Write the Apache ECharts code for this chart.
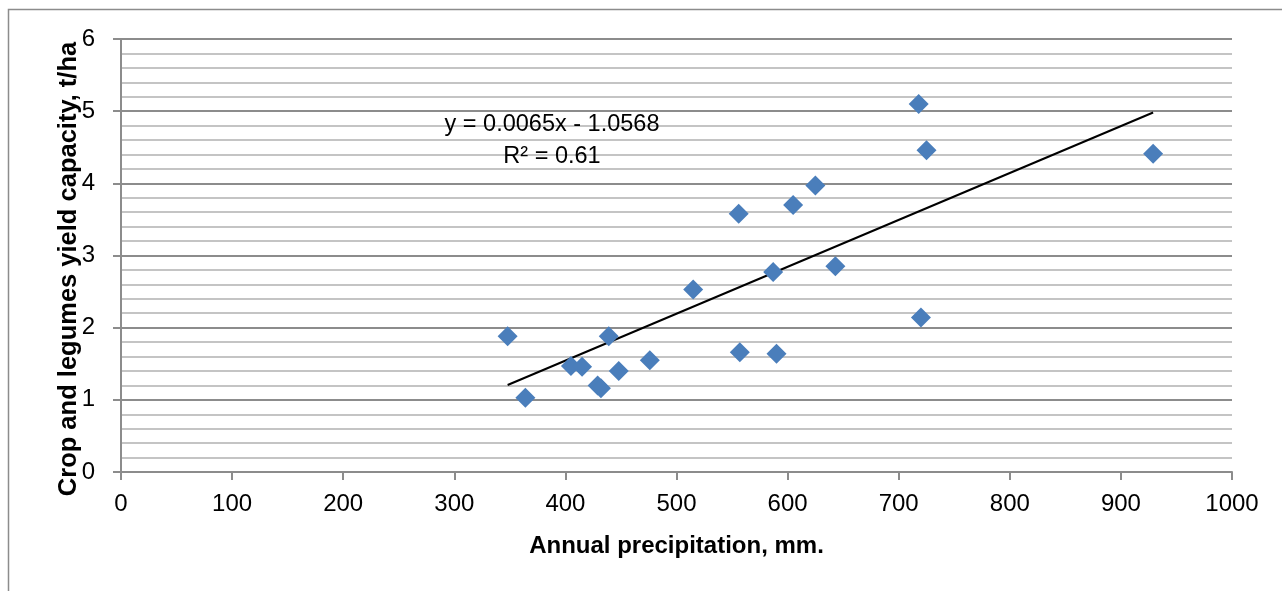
<!DOCTYPE html>
<html>
<head>
<meta charset="utf-8">
<script src="https://cdn.jsdelivr.net/npm/echarts@6/dist/echarts.min.js"></script>
<style>
html,body{margin:0;padding:0;background:#fff;}
#chart{width:1282px;height:591px;}
</style>
</head>
<body>
<div id="chart"></div>
<script>
// Data
const precipitation = [348, 364, 405, 415, 429, 432, 439, 448, 476, 515, 556, 557, 587, 590, 605, 625, 643, 718, 720, 725, 929];
const yieldCapacity = [1.88, 1.03, 1.47, 1.46, 1.20, 1.16, 1.88, 1.40, 1.55, 2.53, 3.58, 1.66, 2.77, 1.64, 3.70, 3.97, 2.85, 5.10, 2.14, 4.46, 4.41];
const trendSlope = 0.0065;
const trendIntercept = -1.0568;
const trendLabel = ['y = 0.0065x - 1.0568', 'R\u00B2 = 0.61'];
const xTitle = 'Annual precipitation, mm.';
const yTitle = 'Crop and legumes yield capacity, t/ha';

const points = precipitation.map((x, i) => [x, yieldCapacity[i]]);
const xMin = Math.min(...precipitation), xMax = Math.max(...precipitation);
const trendPoints = [[xMin, trendSlope * xMin + trendIntercept], [xMax, trendSlope * xMax + trendIntercept]];

const FONT = '"Liberation Sans", Arial, sans-serif';
const chart = echarts.init(document.getElementById('chart'), null, {renderer: 'canvas'});
chart.setOption({
  animation: false,
  backgroundColor: '#fff',
  grid: {left: 121, right: 50, top: 39, bottom: 119, containLabel: false},
  xAxis: {
    type: 'value', min: 0, max: 1000, interval: 100,
    name: xTitle, nameLocation: 'middle', nameGap: 62,
    nameTextStyle: {fontFamily: FONT, fontWeight: 'bold', fontSize: 24, color: '#000'},
    axisLine: {show: true, lineStyle: {color: '#8c8c8c', width: 2}},
    axisTick: {show: true, length: 8, lineStyle: {color: '#8c8c8c', width: 2}},
    axisLabel: {fontFamily: FONT, fontSize: 24, color: '#000', margin: 20, formatter: v => String(v)},
    splitLine: {show: false}
  },
  yAxis: {
    type: 'value', min: 0, max: 6, interval: 1,
    axisLine: {show: true, lineStyle: {color: '#8c8c8c', width: 2}},
    axisTick: {show: true, length: 8, lineStyle: {color: '#8c8c8c', width: 2}},
    axisLabel: {fontFamily: FONT, fontSize: 24, color: '#000', margin: 26},
    splitLine: {show: true, lineStyle: {color: '#8c8c8c', width: 2}},
    minorTick: {show: false, splitNumber: 5},
    minorSplitLine: {show: true, lineStyle: {color: '#c4c4c4', width: 2}}
  },
  series: [
    {
      type: 'line', data: trendPoints, showSymbol: false, symbol: 'none',
      lineStyle: {color: '#000', width: 2}, z: 3, silent: true
    },
    {
      type: 'scatter', data: points, symbol: 'diamond', symbolSize: 20,
      itemStyle: {color: '#4a7ebb', opacity: 1}, z: 4
    }
  ],
  graphic: [
    {type: 'rect', shape: {x: 8.5, y: 9.5, width: 1400, height: 700}, style: {fill: null, stroke: '#8c8c8c', lineWidth: 1.5}, silent: true, z: -1},
    {type: 'text', x: 69, y: 269, rotation: Math.PI / 2, style: {text: yTitle, font: 'bold 25.5px ' + FONT, fill: '#000', align: 'center', verticalAlign: 'middle'}, z: 10},
    {type: 'text', x: 552, y: 125, style: {text: trendLabel[0], font: '23.5px ' + FONT, fill: '#000', align: 'center', verticalAlign: 'middle'}, z: 10},
    {type: 'text', x: 552, y: 157, style: {text: trendLabel[1], font: '23.5px ' + FONT, fill: '#000', align: 'center', verticalAlign: 'middle'}, z: 10}
  ]
});
</script>
</body>
</html>
